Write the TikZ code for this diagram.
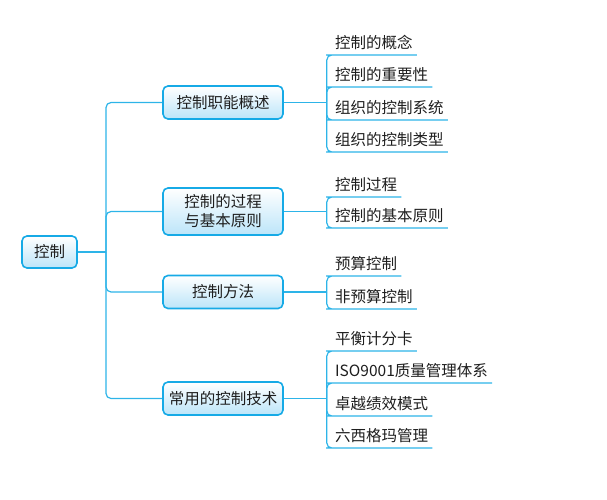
\documentclass[tikz,border=0pt]{standalone}
\usepackage{fontspec}
\newfontfamily\cjk{Noto Sans CJK SC}
\usetikzlibrary{positioning}
\definecolor{linkblue}{RGB}{45,180,232}
\definecolor{boxblue}{RGB}{22,170,230}
\definecolor{boxfill}{RGB}{188,229,249}
\definecolor{txt}{RGB}{30,30,30}

\begin{document}
\begin{tikzpicture}[x=1pt,y=-1pt,
    box/.style={draw=boxblue,line width=1.6pt,rounded corners=5pt,
      top color=white,bottom color=boxfill,minimum width=120pt,
      minimum height=33pt,align=center,text=txt,
      font=\cjk\fontsize{15.5}{19}\selectfont},
    leaf/.style={anchor=south west,inner xsep=4pt,inner ysep=5pt,
      text=txt,font=\cjk\fontsize{15.5}{19}\selectfont},
    link/.style={draw=linkblue,line width=1.2pt,rounded corners=5pt}]

  \useasboundingbox (0,0) rectangle (607,500);

  \node[box,minimum width=55pt,minimum height=32pt] (root) at (49.5,252) {控制};
  \node[box] (n1) at (223,102.5) {控制职能概述};
  \node[box,minimum height=47pt] (n2) at (223,211.5) {控制的过程\\与基本原则};
  \node[box] (n3) at (223,292) {控制方法};
  \node[box] (n4) at (223,398.5) {常用的控制技术};

  % leaves
  \node[leaf] (a1) at (331,55)  {控制的概念};
  \node[leaf] (a2) at (331,87)  {控制的重要性};
  \node[leaf] (a3) at (331,120) {组织的控制系统};
  \node[leaf] (a4) at (331,152) {组织的控制类型};

  \node[leaf] (b1) at (331,197) {控制过程};
  \node[leaf] (b2) at (331,228) {控制的基本原则};

  \node[leaf] (c1) at (331,276) {预算控制};
  \node[leaf] (c2) at (331,309) {非预算控制};

  \node[leaf] (d1) at (331,351) {平衡计分卡};
  \node[leaf] (d2) at (331,383) {ISO9001质量管理体系};
  \node[leaf] (d3) at (331,416) {卓越绩效模式};
  \node[leaf] (d4) at (331,448) {六西格玛管理};

  % spine
  \coordinate (s) at (106,252);
  \draw[link] (root.east) -- (s);
  \foreach \n in {n1,n2,n3,n4}
    \draw[link] (s) |- (\n.west);

  % brackets
  \draw[link] (n1.east) -- ++(43,0) coordinate (j1);
  \draw[link] (n2.east) -- ++(43,0) coordinate (j2);
  \draw[link] (n3.east) -- ++(43,0) coordinate (j3);
  \draw[link] (n4.east) -- ++(43,0) coordinate (j4);
  \foreach \l in {a1,a2,a3,a4}
    \draw[link] (j1) |- (\l.south west) -- (\l.south east);
  \foreach \l in {b1,b2}
    \draw[link] (j2) |- (\l.south west) -- (\l.south east);
  \foreach \l in {c1,c2}
    \draw[link] (j3) |- (\l.south west) -- (\l.south east);
  \foreach \l in {d1,d2,d3,d4}
    \draw[link] (j4) |- (\l.south west) -- (\l.south east);

\end{tikzpicture}
\end{document}
